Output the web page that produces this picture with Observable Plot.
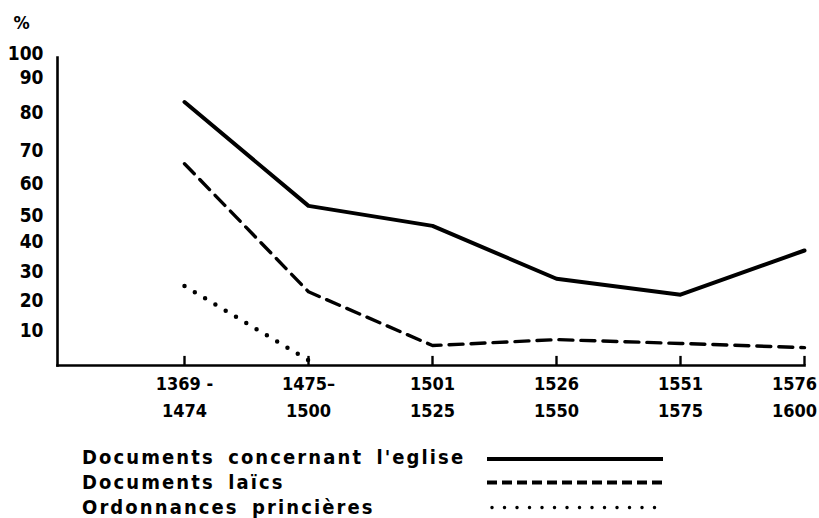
<!DOCTYPE html>
<html><head><meta charset="utf-8">
<script src="https://cdn.jsdelivr.net/npm/d3@7"></script>
<script src="https://cdn.jsdelivr.net/npm/@observablehq/plot@0.6"></script>
<style>
body{margin:0;background:#fff;font-family:"DejaVu Sans Condensed","DejaVu Sans",sans-serif;}
#wrap{position:relative;width:819px;height:518px;overflow:hidden;}
#legend{position:absolute;left:0;top:0;width:819px;height:518px;pointer-events:none;}
.row{position:absolute;left:82px;height:25px;line-height:25px;font-weight:bold;font-size:20px;font-stretch:condensed;letter-spacing:2.1px;word-spacing:5px;color:#000;white-space:nowrap;}
.sample{position:absolute;left:487px;width:180px;height:25px;}
svg text{font-stretch:condensed;}
</style></head><body>
<div id="wrap"><div id="chart"></div><div id="legend"></div></div>
<script>
const periods = ["1369-1474", "1475-1500", "1501-1525", "1526-1550", "1551-1575", "1576-1600"];
const periodLabels = ["1369 -\n1474", "1475–\n1500", "1501\n1525", "1526\n1550", "1551\n1575", "1576\n1600"];
const church = [83, 53, 46, 27.5, 22, 37];
const laic = [66, 23, 5.7, 7.4, 6.3, 5.1];
const princely = [25, 1.5, null, null, null, null];
const yTicks = [10, 20, 30, 40, 50, 60, 70, 80, 90, 100];
const yLevels = [0, 10, 20, 30, 40, 50, 60, 70, 80, 90, 100];
const seriesNames = ["Documents concernant l'eglise", "Documents laïcs", "Ordonnances princières"];

const rows = (vals) => periods.map((p, i) => ({period: p, value: vals[i]})).filter(d => d.value != null);
const fmt = (d) => periodLabels[periods.indexOf(d)];
const font = "'DejaVu Sans Condensed', 'DejaVu Sans', sans-serif";

const chart = Plot.plot({
  width: 819,
  height: 430,
  marginLeft: 57,
  marginTop: 57,
  marginBottom: 65,
  marginRight: 15,
  style: {fontFamily: font, color: "#000", background: "#fff", overflow: "visible"},
  x: {type: "point", domain: periods, range: [184, 804], padding: 0},
  y: {type: "linear", domain: yLevels, range: [365, 330, 300, 271, 241, 215, 183, 150, 112, 77, 53]},
  marks: [
    Plot.frame({anchor: "left", stroke: "#000", strokeWidth: 2.6}),
    Plot.frame({anchor: "bottom", stroke: "#000", strokeWidth: 2.6}),
    Plot.ruleX(periods, {x: d => d, y1: 0, y2: 2.6, stroke: "#000", strokeWidth: 2.4}),
    Plot.axisY({ticks: yTicks, tickSize: 0, tickPadding: 14, fontSize: 19, fontWeight: "bold", label: null}),
    Plot.axisX({ticks: periods.slice(0, 5), tickSize: 0, tickPadding: 5, fontSize: 18, fontWeight: "bold", lineHeight: 1.5, label: null, tickFormat: fmt}),
    Plot.axisX({ticks: periods.slice(5), tickSize: 0, tickPadding: 5, fontSize: 18, fontWeight: "bold", lineHeight: 1.5, label: null, tickFormat: fmt, dx: -10}),
    Plot.text(["%"], {frameAnchor: "top-left", dx: -36, dy: -34, fontSize: 18, fontWeight: "bold", textAnchor: "middle", lineAnchor: "middle"}),
    Plot.line(rows(church), {x: "period", y: "value", stroke: "#000", strokeWidth: 4, strokeLinejoin: "round", strokeLinecap: "round"}),
    Plot.line(rows(laic), {x: "period", y: "value", stroke: "#000", strokeWidth: 3.4, strokeDasharray: "14,8", strokeLinejoin: "round"}),
    Plot.line(rows(princely), {x: "period", y: "value", stroke: "#000", strokeWidth: 4.5, strokeDasharray: "0,12", strokeLinecap: "round"})
  ]
});
document.getElementById("chart").appendChild(chart);

const legend = document.getElementById("legend");
const tops = [444.5, 469.5, 495];
const styles = [
  {w: 4, dash: null, cap: "butt"},
  {w: 4, dash: "10,5", cap: "butt"},
  {w: 3.5, dash: "0,12.5", cap: "round"}
];
seriesNames.forEach((name, i) => {
  const r = document.createElement("div");
  r.className = "row";
  r.style.top = tops[i] + "px";
  r.textContent = name;
  legend.appendChild(r);
  const s = document.createElementNS("http://www.w3.org/2000/svg", "svg");
  s.setAttribute("class", "sample");
  s.setAttribute("width", 180);
  s.setAttribute("height", 25);
  s.style.top = tops[i] + "px";
  const ln = document.createElementNS("http://www.w3.org/2000/svg", "line");
  ln.setAttribute("x1", i === 2 ? 5 : 0);
  ln.setAttribute("x2", i === 2 ? 172 : 176);
  ln.setAttribute("y1", i === 0 ? 14 : 12.5);
  ln.setAttribute("y2", i === 0 ? 14 : 12.5);
  ln.setAttribute("stroke", "#000");
  ln.setAttribute("stroke-width", styles[i].w);
  ln.setAttribute("stroke-linecap", styles[i].cap);
  if (styles[i].dash) ln.setAttribute("stroke-dasharray", styles[i].dash);
  s.appendChild(ln);
  legend.appendChild(s);
});
</script>
</body></html>
